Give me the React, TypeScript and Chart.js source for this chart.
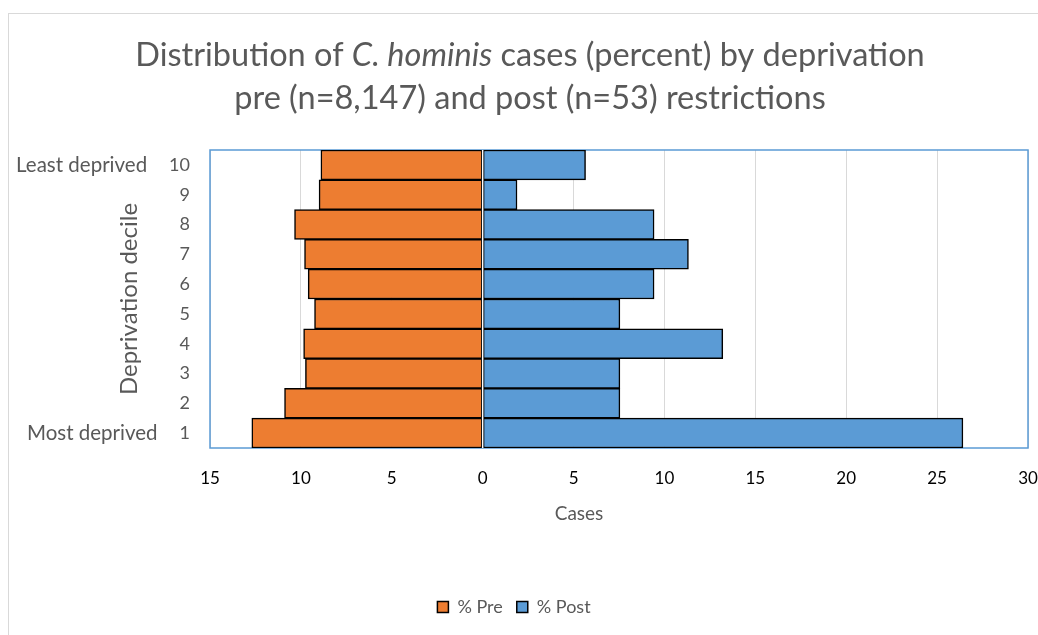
import React, { useEffect, useRef } from "react";
import { Chart, registerables } from "chart.js";

Chart.register(...registerables);

const deciles = ["1", "2", "3", "4", "5", "6", "7", "8", "9", "10"];
const preValues = [12.7, 10.9, 9.75, 9.85, 9.25, 9.6, 9.8, 10.35, 9.0, 8.9];
const postValues = [26.42, 7.55, 7.55, 13.21, 7.55, 9.43, 11.32, 9.43, 1.89, 5.66];
const xTicks = [-15, -10, -5, 0, 5, 10, 15, 20, 25, 30];
const endLabels: Record<string, string> = { "10": "Least deprived", "1": "Most deprived" };

const FONT = "Lato";
const GREY = "#595959";

const framePlugin = {
  id: "framePlugin",
  beforeDraw(chart: any) {
    const ctx = chart.ctx;
    ctx.save();
    ctx.strokeStyle = "#d9d9d9";
    ctx.lineWidth = 1;
    ctx.strokeRect(8.5, 13.5, 1200, 800);
    ctx.restore();
  },
  beforeDatasetsDraw(chart: any) {
    const { ctx, chartArea: a } = chart;
    ctx.save();
    ctx.strokeStyle = "#5B9BD5";
    ctx.lineWidth = 1.5;
    ctx.strokeRect(a.left, a.top, a.right - a.left, a.bottom - a.top);
    ctx.restore();
  },
  afterDatasetsDraw(chart: any) {
    const { ctx, chartArea: a, scales } = chart;
    const x0 = scales.x.getPixelForValue(0);
    ctx.save();
    ctx.strokeStyle = "#ffffff";
    ctx.lineWidth = 1.5;
    ctx.beginPath();
    ctx.moveTo(x0, a.top);
    ctx.lineTo(x0, a.bottom);
    ctx.stroke();
    ctx.restore();
  },
  afterDraw(chart: any) {
    const { ctx, chartArea: a, scales } = chart;
    ctx.save();
    const cx = 530;
    const size = 32.5;
    const normal = `${size}px ${FONT}`;
    const italic = `italic ${size}px ${FONT}`;
    const parts: [string, string][] = [
      ["Distribution of ", normal],
      ["C. hominis", italic],
      [" cases (percent) by deprivation", normal],
    ];
    ctx.fillStyle = GREY;
    ctx.textBaseline = "alphabetic";
    let total = 0;
    for (const [t, f] of parts) {
      ctx.font = f;
      total += ctx.measureText(t).width;
    }
    let x = cx - total / 2;
    ctx.textAlign = "left";
    for (const [t, f] of parts) {
      ctx.font = f;
      ctx.fillText(t, x, 66);
      x += ctx.measureText(t).width;
    }
    ctx.font = normal;
    ctx.textAlign = "center";
    ctx.fillText("pre (n=8,147) and post (n=53) restrictions", cx, 109);

    ctx.save();
    ctx.translate(129, (a.top + a.bottom) / 2);
    ctx.rotate(-Math.PI / 2);
    ctx.font = `24px ${FONT}`;
    ctx.textAlign = "center";
    ctx.textBaseline = "middle";
    ctx.fillText("Deprivation decile", 0, 0);
    ctx.restore();

    ctx.textAlign = "right";
    ctx.textBaseline = "middle";
    const ys = scales.y;
    deciles.forEach((d, i) => {
      const lbl = endLabels[d];
      if (!lbl) return;
      ctx.font = `18px ${FONT}`;
      const numW = ctx.measureText(d).width;
      const right = a.left - 20 - numW - 22;
      ctx.font = `20.5px ${FONT}`;
      ctx.fillText(lbl, right, ys.getPixelForValue(i));
    });

    ctx.font = `19px ${FONT}`;
    ctx.textAlign = "center";
    ctx.textBaseline = "middle";
    ctx.fillText("Cases", 579, 514);
    ctx.restore();
  },
};

export default function App() {
  const ref = useRef<HTMLCanvasElement | null>(null);
  useEffect(() => {
    if (!ref.current) return;
    const chart = new Chart(ref.current, {
      type: "bar",
      data: {
        labels: deciles,
        datasets: [
          {
            label: "% Pre",
            data: preValues.map((v) => -v),
            backgroundColor: "#ED7D31",
            borderColor: "#000000",
            borderWidth: 1.5,
            borderSkipped: false,
            categoryPercentage: 1,
            barPercentage: 1,
          },
          {
            label: "% Post",
            data: postValues,
            backgroundColor: "#5B9BD5",
            borderColor: "#000000",
            borderWidth: 1.5,
            borderSkipped: false,
            categoryPercentage: 1,
            barPercentage: 1,
          },
        ],
      },
      options: {
        indexAxis: "y",
        animation: false,
        responsive: true,
        maintainAspectRatio: false,
        layout: { padding: { top: 150, right: 10, left: 0, bottom: 9 } },
        scales: {
          x: {
            stacked: true,
            min: -15,
            max: 30,
            afterBuildTicks: (s: any) => {
              s.ticks = xTicks.map((v) => ({ value: v }));
            },
            afterFit: (s: any) => {
              s.height = 136;
              s.paddingLeft = 0;
              s.paddingRight = 0;
            },
            grid: { color: "#d9d9d9", lineWidth: 1, drawTicks: false },
            border: { display: false },
            ticks: {
              padding: 20,
              color: "#000000",
              font: { family: FONT, size: 17 },
              callback: (v: any) => String(Math.abs(Number(v))),
            },
          },
          y: {
            stacked: true,
            reverse: true,
            afterFit: (s: any) => {
              s.width = 210;
              s.paddingTop = 0;
              s.paddingBottom = 0;
            },
            grid: { display: false, drawTicks: false },
            border: { display: false },
            ticks: {
              padding: 20,
              color: GREY,
              font: { family: FONT, size: 18 },
            },
          },
        },
        plugins: {
          legend: {
            position: "bottom",
            labels: {
              color: GREY,
              font: { family: FONT, size: 18 },
              boxWidth: 11,
              boxHeight: 11,
              padding: 14,
            },
          },
          title: { display: false },
          tooltip: { enabled: false },
        },
      },
      plugins: [framePlugin],
    });
    return () => chart.destroy();
  }, []);
  return (
    <div style={{ position: "fixed", left: 0, top: 0, width: 1038, height: 635 }}>
      <canvas ref={ref} />
    </div>
  );
}
